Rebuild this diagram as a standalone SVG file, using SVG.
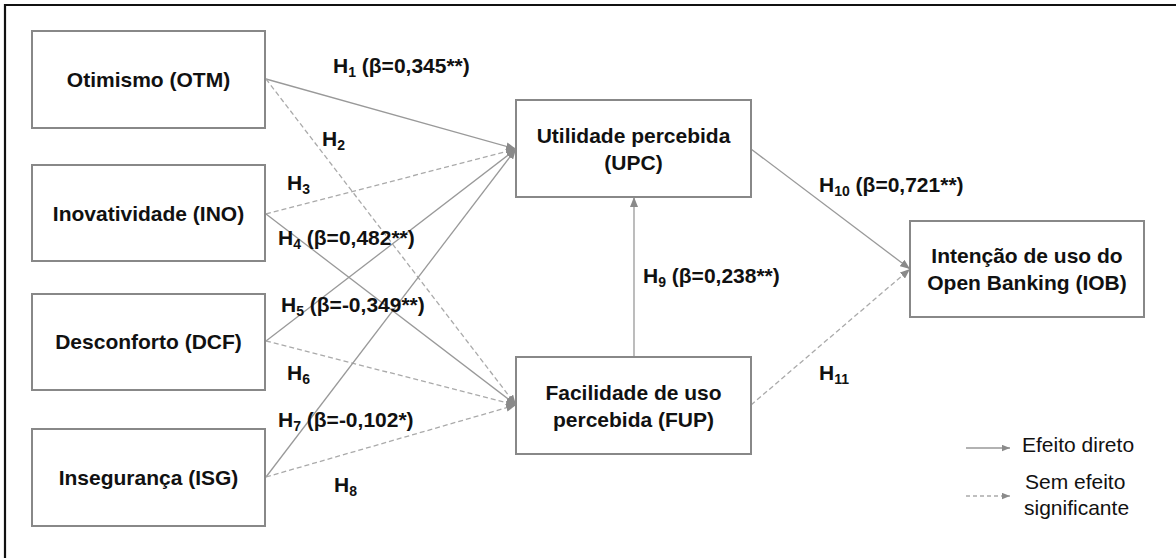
<svg xmlns="http://www.w3.org/2000/svg" width="1176" height="558" viewBox="0 0 1176 558">
<defs>
<marker id="ah" viewBox="0 0 10 8" refX="10" refY="4" markerWidth="10" markerHeight="8" markerUnits="userSpaceOnUse" orient="auto">
<path d="M0,0 L10,4 L0,8 z" fill="#8a8a8a"/>
</marker>
<marker id="ahs" viewBox="0 0 10 8" refX="10" refY="4" markerWidth="8" markerHeight="7" markerUnits="userSpaceOnUse" orient="auto">
<path d="M0,0 L10,4 L0,8 z" fill="#8a8a8a"/>
</marker>
</defs>
<style>
.box{fill:#fff;stroke:#888;stroke-width:2}
.nt{font-family:"Liberation Sans",Arial,sans-serif;font-weight:bold;font-size:21px;fill:#111;text-anchor:middle}
.lb{font-family:"Liberation Sans",Arial,sans-serif;font-weight:bold;font-size:21px;fill:#111}
.sub{font-size:14px}
.lg{font-family:"Liberation Sans",Arial,sans-serif;font-size:21px;fill:#111}
.sol{fill:none;stroke:#999;stroke-width:1.3;marker-end:url(#ah)}
.das{fill:none;stroke:#aaa;stroke-width:1.3;stroke-dasharray:5 3;marker-end:url(#ah)}
</style>
<rect width="1176" height="558" fill="#fff"/>
<path d="M5,558 V5 H1176" fill="none" stroke="#111" stroke-width="2.2"/>

<g id="connectors">
<line class="sol" x1="266" y1="79" x2="516" y2="149"/>
<line class="das" x1="266" y1="79" x2="516" y2="405"/>
<line class="das" x1="266" y1="214" x2="516" y2="149"/>
<line class="sol" x1="266" y1="214" x2="516" y2="405"/>
<line class="sol" x1="266" y1="341" x2="516" y2="149"/>
<line class="das" x1="266" y1="341" x2="516" y2="405"/>
<line class="sol" x1="266" y1="477" x2="516" y2="149"/>
<line class="das" x1="266" y1="477" x2="516" y2="405"/>
<line class="sol" x1="634" y1="357" x2="634" y2="197"/>
<line class="sol" x1="751" y1="149" x2="910" y2="269"/>
<line class="das" x1="751" y1="405" x2="910" y2="269"/>
</g>

<g id="labels">
<text class="lb" x="333" y="73">H<tspan class="sub" dy="4">1</tspan><tspan dy="-4"> (β=0,345**)</tspan></text>
<text class="lb" x="322" y="146">H<tspan class="sub" dy="4">2</tspan></text>
<text class="lb" x="287" y="190">H<tspan class="sub" dy="4">3</tspan></text>
<text class="lb" x="278" y="245">H<tspan class="sub" dy="4">4</tspan><tspan dy="-4"> (β=0,482**)</tspan></text>
<text class="lb" x="281" y="312">H<tspan class="sub" dy="4">5</tspan><tspan dy="-4"> (β=-0,349**)</tspan></text>
<text class="lb" x="287" y="380">H<tspan class="sub" dy="4">6</tspan></text>
<text class="lb" x="278" y="427">H<tspan class="sub" dy="4">7</tspan><tspan dy="-4"> (β=-0,102*)</tspan></text>
<text class="lb" x="334" y="492">H<tspan class="sub" dy="4">8</tspan></text>
<text class="lb" x="643" y="283">H<tspan class="sub" dy="4">9</tspan><tspan dy="-4"> (β=0,238**)</tspan></text>
<text class="lb" x="819" y="192">H<tspan class="sub" dy="4">10</tspan><tspan dy="-4"> (β=0,721**)</tspan></text>
<text class="lb" x="819" y="380">H<tspan class="sub" dy="4">11</tspan></text>
</g>

<g id="otm"><rect class="box" x="32" y="31" width="233" height="97"/><text class="nt" x="148.5" y="87">Otimismo (OTM)</text></g>
<g id="ino"><rect class="box" x="32" y="165" width="233" height="96"/><text class="nt" x="148.5" y="221">Inovatividade (INO)</text></g>
<g id="dcf"><rect class="box" x="32" y="294" width="233" height="96"/><text class="nt" x="148.5" y="349">Desconforto (DCF)</text></g>
<g id="isg"><rect class="box" x="32" y="429" width="233" height="97"/><text class="nt" x="148.5" y="485">Insegurança (ISG)</text></g>
<g id="upc"><rect class="box" x="516" y="100" width="235" height="97"/><text class="nt" x="633.5" y="142.5">Utilidade percebida</text><text class="nt" x="633.5" y="169.5">(UPC)</text></g>
<g id="fup"><rect class="box" x="516" y="357" width="235" height="97"/><text class="nt" x="633.5" y="400">Facilidade de uso</text><text class="nt" x="633.5" y="427">percebida (FUP)</text></g>
<g id="iob"><rect class="box" x="910" y="221" width="234" height="96"/><text class="nt" x="1027" y="263">Intenção de uso do</text><text class="nt" x="1027" y="290">Open Banking (IOB)</text></g>

<g id="legend">
<line x1="966" y1="448" x2="1010" y2="448" stroke="#999" stroke-width="1.3" marker-end="url(#ahs)"/>
<text class="lg" x="1022" y="452">Efeito direto</text>
<line x1="966" y1="496" x2="1010" y2="496" stroke="#aaa" stroke-width="1.3" stroke-dasharray="4 3" marker-end="url(#ahs)"/>
<text class="lg" x="1025" y="489">Sem efeito</text>
<text class="lg" x="1024" y="515">significante</text>
</g>
</svg>
